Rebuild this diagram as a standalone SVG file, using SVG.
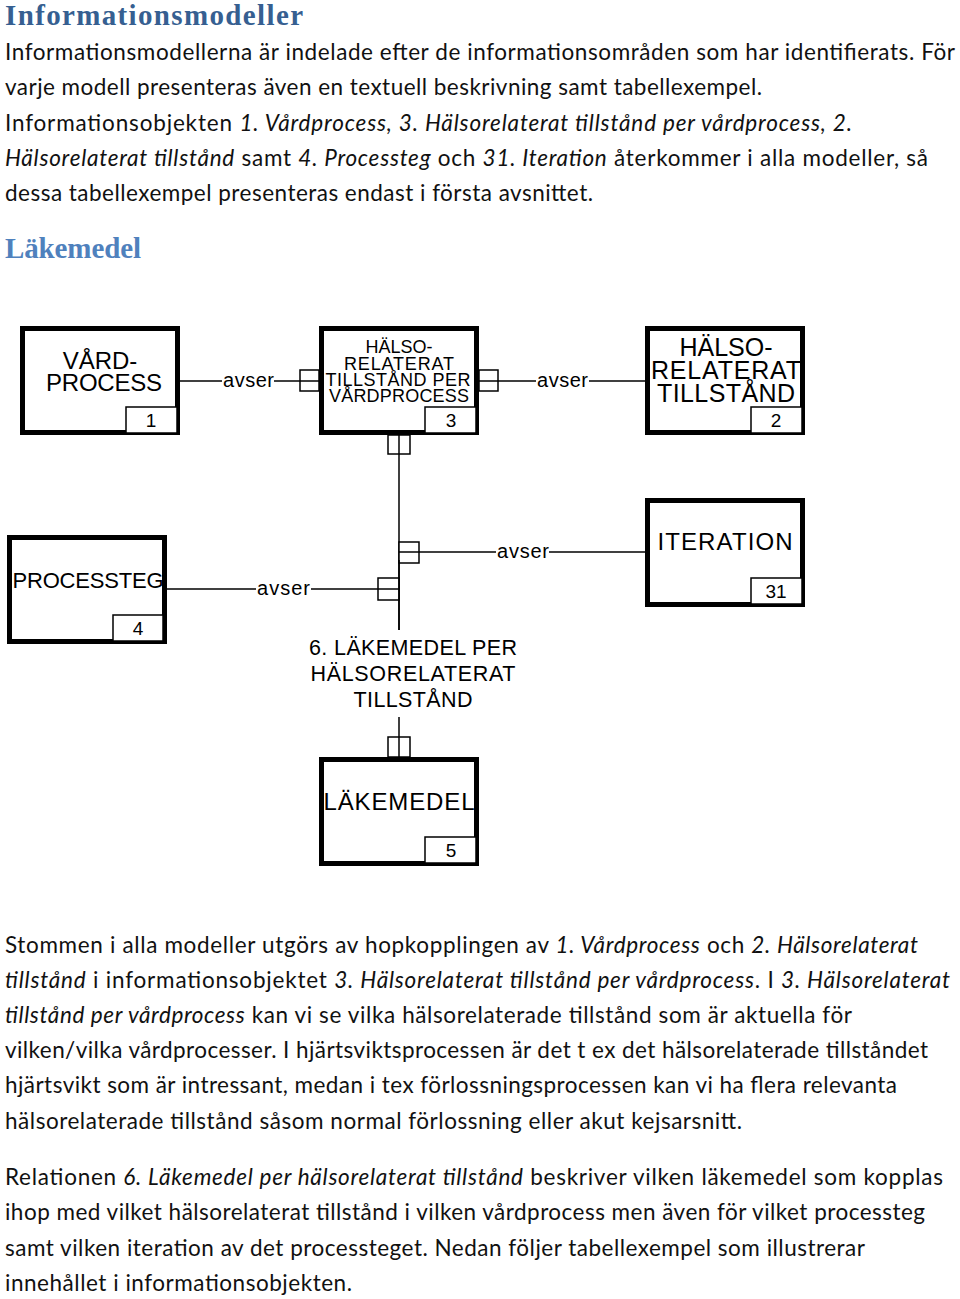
<svg xmlns="http://www.w3.org/2000/svg" width="960" height="1299" viewBox="0 0 960 1299">
<style>
.h1{font-family:"Liberation Serif","DejaVu Serif",serif;font-weight:bold;font-size:29px;fill:#365F91}
.h2{font-family:"Liberation Serif","DejaVu Serif",serif;font-weight:bold;font-size:29px;fill:#4F81BD}
.body{font-family:Lato,"Liberation Sans",sans-serif;font-size:22.5px;fill:#111}
.i{font-style:italic}
.ent{fill:#fff;stroke:#000;stroke-width:5}
.num{fill:#fff;stroke:#000;stroke-width:1.5}
.lbl{font-family:"Liberation Sans",Arial,sans-serif;fill:#000;text-anchor:middle}
.line{stroke:#000;stroke-width:1.5;fill:none}
.sym{stroke:#000;stroke-width:1.5;fill:#fff}
.avser{font-family:"Liberation Sans",Arial,sans-serif;font-size:20px;fill:#000}
</style>
<rect width="960" height="1299" fill="#fff"/>

<g id="intro">
<text class="h1" x="5" y="25" textLength="298">Informationsmodeller</text>
<text class="body" x="5" y="60" textLength="950">Informationsmodellerna är indelade efter de informationsområden som har identifierats. För</text>
<text class="body" x="5" y="95" textLength="757">varje modell presenteras även en textuell beskrivning samt tabellexempel.</text>
<text class="body" x="5" y="131" textLength="847">Informationsobjekten <tspan class="i">1. Vårdprocess, 3. Hälsorelaterat tillstånd per vårdprocess, 2.</tspan></text>
<text class="body" x="5" y="166" textLength="923"><tspan class="i">Hälsorelaterat tillstånd</tspan> samt <tspan class="i">4. Processteg</tspan> och <tspan class="i">31. Iteration</tspan> återkommer i alla modeller, så</text>
<text class="body" x="5" y="201" textLength="588">dessa tabellexempel presenteras endast i första avsnittet.</text>
<text class="h2" x="5" y="258" textLength="136">Läkemedel</text>
</g>

<g id="connectors">
<line class="line" x1="180" y1="381" x2="222" y2="381"/>
<text class="avser" x="223" y="387" textLength="51">avser</text>
<line class="line" x1="274" y1="381" x2="320" y2="381"/>
<rect class="sym" x="300" y="370" width="19" height="21"/>
<line class="line" x1="300" y1="381" x2="320" y2="381"/>
<rect class="sym" x="479" y="370" width="19" height="21"/>
<line class="line" x1="479" y1="381" x2="536" y2="381"/>
<text class="avser" x="537" y="387" textLength="51">avser</text>
<line class="line" x1="589" y1="381" x2="645" y2="381"/>
<line class="line" x1="399" y1="435" x2="399" y2="630"/>
<line class="line" x1="399" y1="717" x2="399" y2="757"/>
<rect class="sym" x="388" y="435" width="22" height="19"/>
<line class="line" x1="399" y1="435" x2="399" y2="454"/>
<rect class="sym" x="388" y="737" width="22" height="20"/>
<line class="line" x1="399" y1="737" x2="399" y2="757"/>
<rect class="sym" x="399" y="542" width="20" height="21"/>
<line class="line" x1="399" y1="552" x2="496" y2="552"/>
<text class="avser" x="497" y="558" textLength="52">avser</text>
<line class="line" x1="549" y1="552" x2="645" y2="552"/>
<line class="line" x1="167" y1="589" x2="256" y2="589"/>
<text class="avser" x="257" y="595" textLength="53">avser</text>
<line class="line" x1="311" y1="589" x2="399" y2="589"/>
<rect class="sym" x="378" y="578" width="21" height="22"/>
<line class="line" x1="378" y1="589" x2="399" y2="589"/>
<line class="line" x1="399" y1="560" x2="399" y2="630"/>
<text class="lbl" font-size="21.5" x="413" y="655" textLength="208">6. LÄKEMEDEL PER</text>
<text class="lbl" font-size="21.5" x="413" y="681" textLength="205">HÄLSORELATERAT</text>
<text class="lbl" font-size="21.5" x="413" y="707" textLength="119">TILLSTÅND</text>
</g>

<g id="node1">
<rect class="ent" x="22.5" y="328.5" width="155" height="104"/>
<rect class="num" x="126" y="407" width="51" height="26"/>
<text class="lbl" font-size="24" x="100" y="369">VÅRD-</text>
<text class="lbl" font-size="24" x="104" y="391" textLength="116">PROCESS</text>
<text class="lbl" font-size="19" x="151" y="427">1</text>
</g>

<g id="node3">
<rect class="ent" x="321.5" y="328.5" width="155" height="104"/>
<rect class="num" x="425" y="407" width="51" height="26"/>
<text class="lbl" font-size="18" x="399" y="352.5">HÄLSO-</text>
<text class="lbl" font-size="18" x="399" y="369.5" textLength="110">RELATERAT</text>
<text class="lbl" font-size="18" x="398" y="386" textLength="145">TILLSTÅND PER</text>
<text class="lbl" font-size="18" x="399" y="402" textLength="140">VÅRDPROCESS</text>
<text class="lbl" font-size="19" x="451" y="427">3</text>
</g>

<g id="node2">
<rect class="ent" x="647.5" y="328.5" width="155" height="104"/>
<rect class="num" x="751" y="407" width="51" height="26"/>
<text class="lbl" font-size="25" x="726" y="356">HÄLSO-</text>
<text class="lbl" font-size="25" x="726" y="379" textLength="150">RELATERAT</text>
<text class="lbl" font-size="25" x="726" y="402" textLength="138">TILLSTÅND</text>
<text class="lbl" font-size="19" x="776" y="427">2</text>
</g>

<g id="node4">
<rect class="ent" x="9.5" y="537.5" width="155" height="104"/>
<rect class="num" x="113" y="615" width="50" height="26"/>
<text class="lbl" font-size="22" x="88" y="588" textLength="151">PROCESSTEG</text>
<text class="lbl" font-size="19" x="138" y="635">4</text>
</g>

<g id="node31">
<rect class="ent" x="647.5" y="500.5" width="155" height="104"/>
<rect class="num" x="751" y="578" width="51" height="26"/>
<text class="lbl" font-size="24" x="725" y="550" textLength="135">ITERATION</text>
<text class="lbl" font-size="19" x="776" y="598">31</text>
</g>

<g id="node5">
<rect class="ent" x="321.5" y="759.5" width="155" height="104"/>
<rect class="num" x="425" y="837" width="51" height="26"/>
<text class="lbl" font-size="24" x="399" y="810" textLength="151">LÄKEMEDEL</text>
<text class="lbl" font-size="19" x="451" y="857">5</text>
</g>

<g id="outro">
<text class="body" x="5" y="953" textLength="913">Stommen i alla modeller utgörs av hopkopplingen av <tspan class="i">1. Vårdprocess</tspan> och <tspan class="i">2. Hälsorelaterat</tspan></text>
<text class="body" x="5" y="988" textLength="945"><tspan class="i">tillstånd</tspan> i informationsobjektet <tspan class="i">3. Hälsorelaterat tillstånd per vårdprocess</tspan>. I <tspan class="i">3. Hälsorelaterat</tspan></text>
<text class="body" x="5" y="1023" textLength="847"><tspan class="i">tillstånd per vårdprocess</tspan> kan vi se vilka hälsorelaterade tillstånd som är aktuella för</text>
<text class="body" x="5" y="1058" textLength="923">vilken/vilka vårdprocesser. I hjärtsviktsprocessen är det t ex det hälsorelaterade tillståndet</text>
<text class="body" x="5" y="1093" textLength="892">hjärtsvikt som är intressant, medan i tex förlossningsprocessen kan vi ha flera relevanta</text>
<text class="body" x="5" y="1129" textLength="737">hälsorelaterade tillstånd såsom normal förlossning eller akut kejsarsnitt.</text>
<text class="body" x="5" y="1185" textLength="938">Relationen <tspan class="i">6. Läkemedel per hälsorelaterat tillstånd</tspan> beskriver vilken läkemedel som kopplas</text>
<text class="body" x="5" y="1220" textLength="920">ihop med vilket hälsorelaterat tillstånd i vilken vårdprocess men även för vilket processteg</text>
<text class="body" x="5" y="1256" textLength="860">samt vilken iteration av det processteget. Nedan följer tabellexempel som illustrerar</text>
<text class="body" x="5" y="1291" textLength="347">innehållet i informationsobjekten.</text>
</g>
</svg>
